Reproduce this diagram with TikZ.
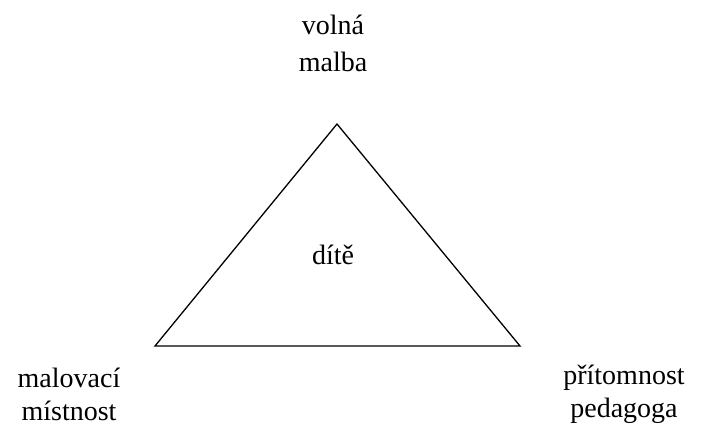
\documentclass[tikz,border=0pt]{standalone}
\usepackage{fontspec}
\setmainfont{Liberation Serif}
\begin{document}
\begin{tikzpicture}[x=1pt, y=1pt,
  lbl/.style={align=center,inner sep=0pt,anchor=base,font=\fontsize{28}{33}\selectfont},
  tri/.style={draw,line width=1.3pt,line join=miter}]
\useasboundingbox (0,0) rectangle (702,427);
\coordinate (top) at (337,303);
\coordinate (left) at (155,81);
\coordinate (right) at (520,81);
\draw[tri] (top) -- (left) -- (right) -- cycle;
\node[lbl,font=\fontsize{28}{37}\selectfont] (art) at (333,355) {volná\\malba};
\node[lbl] (kid) at (333,162) {dítě};
\node[lbl] (room) at (69,6) {malovací\\místnost};
\node[lbl] (teacher) at (624,9) {přítomnost\\pedagoga};
\end{tikzpicture}
\end{document}
